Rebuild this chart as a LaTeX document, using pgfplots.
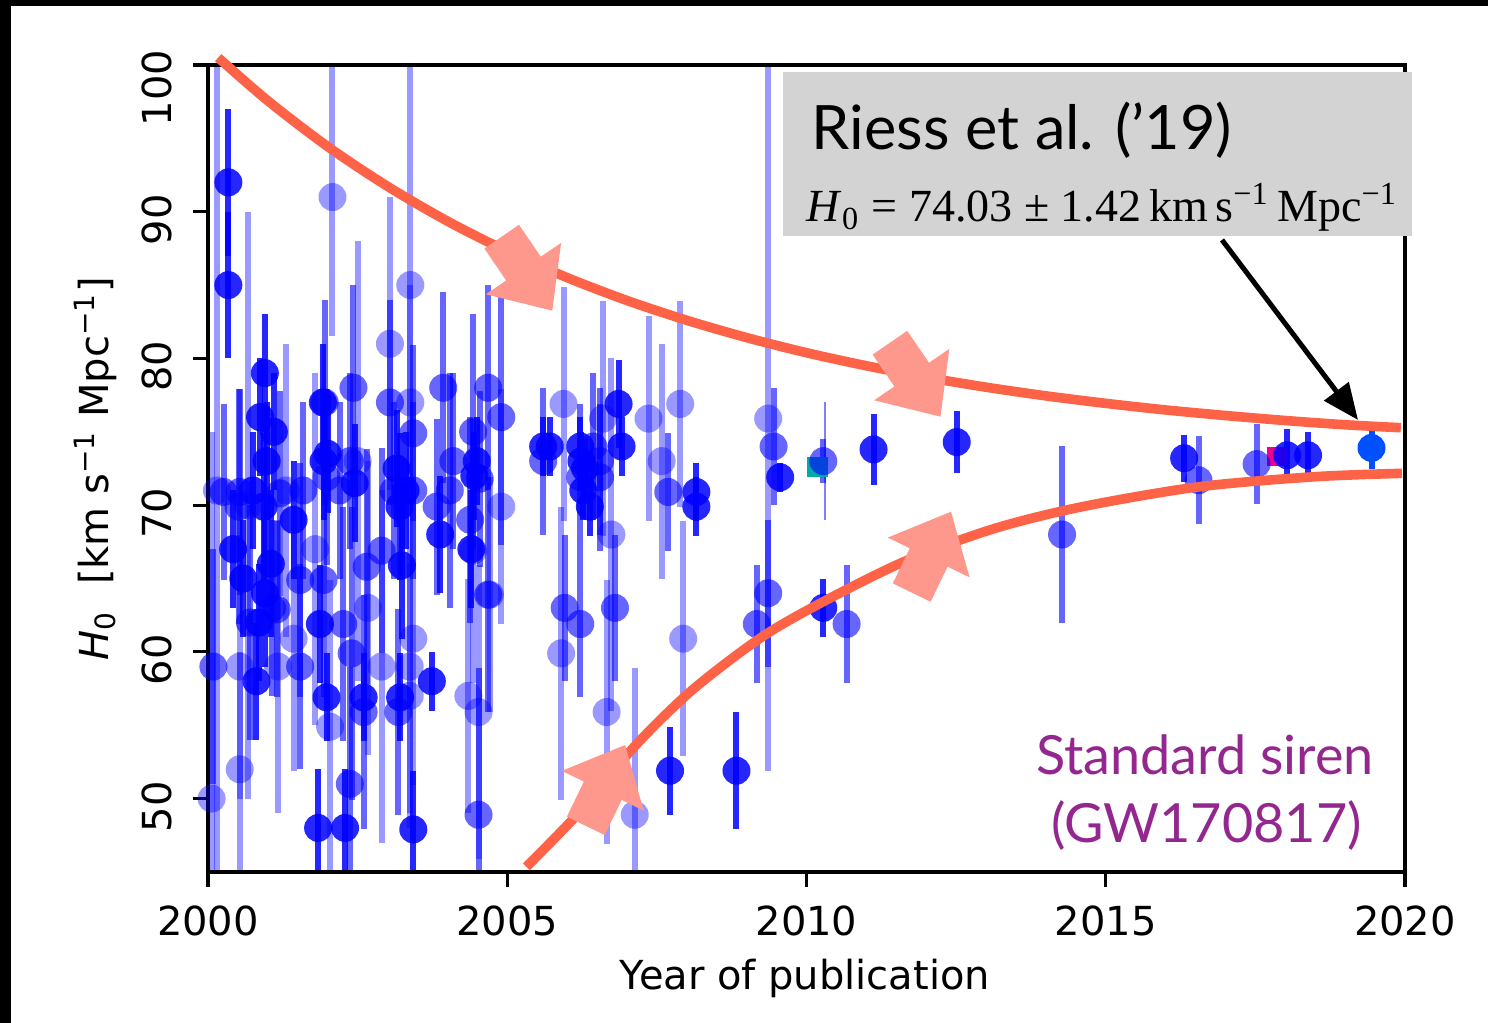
\documentclass[border=0pt]{standalone}
\usepackage{pgfplots}
\usepackage{pgfplotstable}
\pgfplotsset{compat=1.18}
\usepackage{fontspec}
\setmainfont{DejaVu Sans}
\newfontfamily\gill{Lato}
\newfontfamily\tnr{Liberation Serif}
\usetikzlibrary{arrows.meta}
\definecolor{tomato}{RGB}{255,99,71}
\definecolor{salm}{RGB}{255,152,140}
\definecolor{purp}{RGB}{147,39,143}
\definecolor{riess}{RGB}{0,80,255}
\definecolor{gbox}{RGB}{211,211,211}
\definecolor{teal2}{RGB}{0,170,170}

\pgfplotstableread{
x y e
2000.06 50.0 25
2000.15 71.0 30
2000.53 52.0 8
2000.53 59.0 9
2000.67 70.0 20
2001.17 59.0 10
2001.30 71.0 10
2001.43 60.9 9
2001.79 67.0 12
2002.04 54.9 10
2002.08 91.0 9.5
2002.50 73.0 15
2002.67 63.0 10
2002.90 59.0 12
2003.04 81.0 10
2003.37 59.0 10
2003.37 57.0 9
2003.38 85.0 15
2003.38 77.0 8
2003.43 60.9 10
2004.35 57.0 8
2004.43 66.9 9
2004.52 55.9 10
2004.71 63.9 8
2004.90 69.9 8
2005.90 59.9 10
2005.94 76.9 8
2006.60 75.9 8
2006.66 55.9 9
2006.74 68.0 12
2007.13 48.9 10
2007.36 75.9 7
2007.58 73.0 8
2007.89 76.9 7
2007.94 60.9 8
2009.36 75.9 24
}\dataP

\pgfplotstableread{
x y e
2000.09 59.0 8
2000.26 70.9 6
2000.51 69.9 8
2000.53 70.9 7
2000.70 62.0 8
2001.07 63.0 6
2001.15 62.9 6
2001.20 70.8 7
2001.54 64.9 8
2001.54 59.0 7
2001.59 71.0 6
2001.98 71.9 6
2001.93 64.9 8
2001.95 77.0 7
2002.20 71.0 6
2002.26 61.9 8
2002.37 73.0 6
2002.37 51.0 8
2002.40 59.9 10
2002.43 78.0 7
2002.60 55.9 8
2002.65 65.8 8
2002.90 66.9 7
2003.04 77.0 7
2003.10 71.0 6
2003.18 55.9 7
2003.43 71.0 6
2003.43 74.9 6
2003.82 69.9 6
2003.93 78.0 6.5
2004.04 71.0 8
2004.10 73.0 6
2004.38 69.0 7
2004.43 75.0 8
2004.52 48.9 10
2004.54 71.8 6
2004.68 78.0 7
2004.68 63.9 8
2004.90 76.0 8.7
2005.60 73.0 5
2005.96 63.0 5
2006.22 61.9 5
2006.44 74.0 5
2006.55 73.0 5
2006.55 71.9 5
2006.22 71.9 5
2006.80 63.0 5
2007.69 70.9 4
2009.17 61.9 4
2009.36 64.0 5
2009.45 74.0 4
2010.28 73.0 1.5
2010.67 61.9 4
2014.27 68.0 6
2016.55 71.7 3
2017.52 72.8 2.7
}\dataM

\pgfplotstableread{
x y e
2000.34 92.0 5
2000.34 85.0 5
2000.42 67.0 4
2000.59 65.0 4
2000.75 71.0 4
2000.81 58.0 4
2000.85 62.0 4
2000.87 76.0 4
2000.93 69.9 5
2000.95 79.0 4
2000.98 73.0 4
2000.95 64.0 5
2001.05 66.0 5
2001.10 75.0 4
2001.43 69.0 4
2001.84 48.0 4
2001.87 61.9 4
2001.93 73.0 4
2001.92 77.0 4
2001.98 56.9 3
2002.00 73.5 4
2002.29 48.0 4
2002.45 71.5 4
2002.60 56.9 3
2003.15 72.5 4
2003.20 69.9 5
2003.21 56.9 3
2003.24 65.9 5
2003.30 71.0 4
2003.43 47.9 4
2003.74 58.0 2
2003.88 68.0 4
2004.40 67.0 4
2004.45 72.0 3
2004.49 73.0 3
2005.60 74.0 2
2005.71 74.0 2
2006.22 74.0 2
2006.24 73.0 2
2006.27 71.0 2
2006.30 72.5 2
2006.38 69.9 2
2006.86 76.9 3
2006.91 74.0 2
2007.72 51.9 3
2008.16 70.9 2
2008.16 69.9 2
2008.83 51.9 4
2009.56 71.9 1
2010.28 63.0 2
2011.12 73.8 2.4
2012.51 74.3 2.1
2016.31 73.2 1.6
2018.03 73.4 1.8
2018.38 73.4 1.6
}\dataS

\pgfplotsset{
  base/.style={at={(0,0)}, anchor=south west, scale only axis,
    width=299.25pt, height=201.75pt,
    xmin=2000, xmax=2020, ymin=45, ymax=100},
  pts/.style 2 args={only marks, color=#1, mark=*, mark size=3.5pt,
    mark options={draw opacity=0, fill=#1, fill opacity=#2},
    error bars/.cd, y dir=both, y explicit, error mark=none,
    error bar style={line width=1.5pt, #1, opacity=#2}},
}

\begin{document}
\begin{tikzpicture}
\fill[black] (-52pt,-37.75pt) rectangle (320pt,218pt);
\fill[white] (-49.25pt,-37.75pt) rectangle (320pt,216.5pt);
\begin{axis}[base,
  axis on top,
  xtick={2000,2005,...,2020}, ytick={50,60,...,100},
  yticklabels={50\hspace*{4pt},60\hspace*{4pt},70\hspace*{4pt},80\hspace*{4pt},90\hspace*{4pt},100\hspace*{11.5pt}},
  xtick pos=bottom, ytick pos=left, tick align=outside,
  major tick length=3.75pt,
  every tick/.style={black, line width=0.8pt},
  axis line style={line width=0.8pt},
  /pgf/number format/assume math mode=true,
  /pgf/number format/1000 sep={},
  ticklabel style={font=\fontsize{10}{12}\selectfont},
  xticklabel style={yshift=-1.25pt},
  yticklabel style={rotate=90, anchor=south, inner ysep=5pt},
  xlabel={Year of publication},
  ylabel={\textit{H}\textsubscript{0}\ \ [km s\textsuperscript{−1} Mpc\textsuperscript{−1}]},
  label style={font=\fontsize{10}{12}\selectfont},
  xlabel style={at={(axis description cs:0.4987,-0.1462)}, anchor=base},
  ylabel style={at={(axis description cs:-0.094,0.5)}, anchor=center},
]
\addplot[only marks, mark=square*, mark size=2.4pt, teal2] coordinates {(2010.18,72.6)};
\addplot[only marks, mark=square*, mark size=2.2pt, magenta] coordinates {(2017.86,73.3)};
\addplot[blue, opacity=0.5, line width=0.4pt] coordinates {(2010.31,69) (2010.31,77)};
\addplot[pts={blue}{0.4}] table[x=x, y=y, y error=e] {\dataP};
\addplot[pts={blue}{0.6}] table[x=x, y=y, y error=e] {\dataM};
\addplot[pts={blue}{0.85}] table[x=x, y=y, y error=e] {\dataS};
\addplot[pts={riess}{1}] coordinates {(2019.44,73.9) +- (0,1.42)};
\end{axis}
\begin{axis}[base, hide axis, clip=false]
\addplot[tomato, line width=2.4pt, smooth] coordinates {
(2000.17,100.5) (2001,97.56) (2002,94.44) (2003,91.73) (2004,89.36) (2005,87.30)
(2006,85.51) (2007,83.95) (2008,82.60) (2009,81.42) (2010,80.39) (2011,79.50)
(2012,78.72) (2013,78.04) (2014,77.45) (2015,76.94) (2016,76.49) (2017,76.11)
(2018,75.77) (2019,75.48) (2019.93,75.28)};
\addplot[tomato, line width=2.4pt, smooth] coordinates {
(2005.32,45.35) (2006.24,49.22) (2007.12,53.53) (2008.09,57.40) (2009.26,61.03)
(2010.33,63.53) (2011.69,66.26) (2013.15,68.42) (2014.60,69.89) (2016.55,71.25)
(2018.50,71.94) (2019.95,72.17)};
\end{axis}
\begin{scope}[x=0.25pt, y=-0.25pt, shift={(-52pt,218pt)}]
\fill[salm] (519.0,224.8) -- (540.8,256.7) -- (561.1,242.9) -- (552.3,310.7) -- (485.9,294.3) -- (506.2,280.5) -- (484.4,248.6) -- cycle;
\fill[salm] (907.2,330.9) -- (929.0,362.8) -- (949.3,348.9) -- (940.5,416.7) -- (874.1,400.3) -- (894.4,386.5) -- (872.6,354.6) -- cycle;
\fill[salm] (604.7,835.1) -- (621.7,800.0) -- (643.7,810.7) -- (625.1,745) -- (561.9,770.9) -- (583.9,781.6) -- (566.9,816.7) -- cycle;
\fill[salm] (930.6,601.8) -- (947.6,566.7) -- (969.6,577.4) -- (951,511.7) -- (887.8,537.6) -- (909.8,548.3) -- (892.8,583.4) -- cycle;
\fill[gbox] (783,72) rectangle (1411.7,235.7);
\node[anchor=base west, inner sep=0pt, font=\gill\fontsize{15.3}{18}\selectfont] at (811,150) {Riess et al. (’19)};
\node[anchor=base west, inner sep=0pt, font=\tnr\fontsize{11.5}{13}\selectfont] at (806,222)
  {\textit{H}\textsubscript{0} = 74.03 ± 1.42\,km\,s\textsuperscript{−1}\,Mpc\textsuperscript{−1}};
\draw[line width=1.25pt, -{Triangle[length=9pt,width=7.5pt]}] (1222,240) -- (1358,420);
\node[anchor=base, inner sep=0pt, text=purp, font=\gill\fontsize{13.5}{16}\selectfont] at (1205,775) {Standard siren};
\node[anchor=base, inner sep=0pt, text=purp, font=\gill\fontsize{13.5}{16}\selectfont] at (1206.5,843) {(GW170817)};
\end{scope}
\pgfresetboundingbox
\path[use as bounding box] (-52pt,-37.75pt) rectangle (320pt,218pt);
\end{tikzpicture}
\end{document}
